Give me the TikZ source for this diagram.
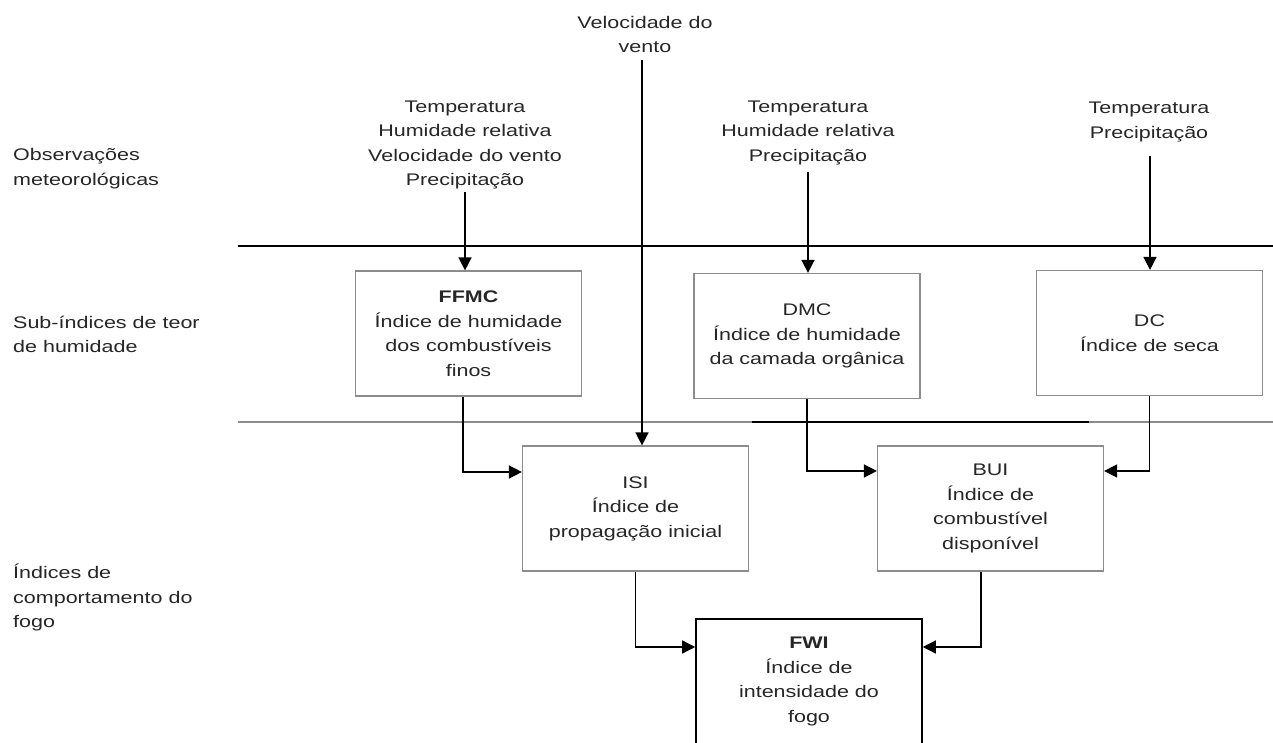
\documentclass[tikz,border=0pt]{standalone}
\usepackage{fontspec}
\setmainfont[FakeStretch=1.28]{Liberation Sans}
\usetikzlibrary{arrows.meta,calc}
\begin{document}
\begin{tikzpicture}[x=1pt,y=-1pt,
  txt/.style={font=\fontsize{16.8}{24.5}\selectfont, align=center, inner sep=0pt, text=black!85},
  lbl/.style={txt, align=left, anchor=west},
  box/.style={txt, draw=black!45, line width=1.2pt, minimum width=226pt, minimum height=125pt, fill=white},
  fbox/.style={box, draw=black, line width=1.6pt},
  arr/.style={-{Triangle[length=13pt,width=13pt]}, line width=1.5pt},
  sep/.style={line width=1.4pt}
]
\clip (0,0) rectangle (1273,743);
\fill[white] (0,0) rectangle (1273,743);

% separators
\draw[sep] (238,246) -- (1273,246);
\draw[sep, black!45] (238,422) -- (1273,422);
\draw[sep] (752,422) -- (1089,422);

% left labels
\node[lbl] (l1) at (13,168.5) {Observações\\meteorológicas};
\node[lbl] (l2) at (13,334.5) {Sub-índices de teor\\de humidade};
\node[lbl] (l3) at (13,597.5) {Índices de\\comportamento do\\fogo};

% inputs
\node[txt] (in1) at (465,145) {Temperatura\\Humidade relativa\\Velocidade do vento\\Precipitação};
\node[txt] (wind) at (645,34.5) {Velocidade do\\vento};
\node[txt] (in2) at (808,133) {Temperatura\\Humidade relativa\\Precipitação};
\node[txt] (in3) at (1149,122) {Temperatura\\Precipitação};

% boxes
\node[box] (ffmc) at (468.5,333.5) {\textbf{FFMC}\\Índice de humidade\\dos combustíveis\\finos};
\node[box] (dmc) at (807,336) {DMC\\Índice de humidade\\da camada orgânica};
\node[box] (dc) at (1149.5,333) {DC\\Índice de seca};
\node[box] (isi) at (635.5,508.5) {ISI\\Índice de\\propagação inicial};
\node[box] (bui) at (990.5,508.5) {BUI\\Índice de\\combustível\\disponível};
\node[fbox] (fwi) at (809,681.5) {\textbf{FWI}\\Índice de\\intensidade do\\fogo};

% coordinates
\coordinate (w0) at (642,60);
\coordinate (a1) at (465,192);
\coordinate (a2) at (808,172);
\coordinate (a3) at (1150,156);
\coordinate (j1) at (463,472);
\coordinate (j4) at (981,647);

% connectors
\draw[arr] (a1) -- (a1 |- ffmc.north);
\draw[arr] (a2) -- (a2 |- dmc.north);
\draw[arr] (a3) -- (a3 |- dc.north);
\draw[arr] (w0) -- (w0 |- isi.north);
\draw[arr] (j1 |- ffmc.south) -- (j1) -- (j1 -| isi.west);
\draw[arr] (dmc.south) |- ([yshift=37.5pt]bui.west);
\draw[arr] (dc.south) |- ([yshift=37.5pt]bui.east);
\draw[arr] (isi.south) |- ([yshift=34.5pt]fwi.west);
\draw[arr] (j4 |- bui.south) -- (j4) -- (j4 -| fwi.east);
\end{tikzpicture}
\end{document}
